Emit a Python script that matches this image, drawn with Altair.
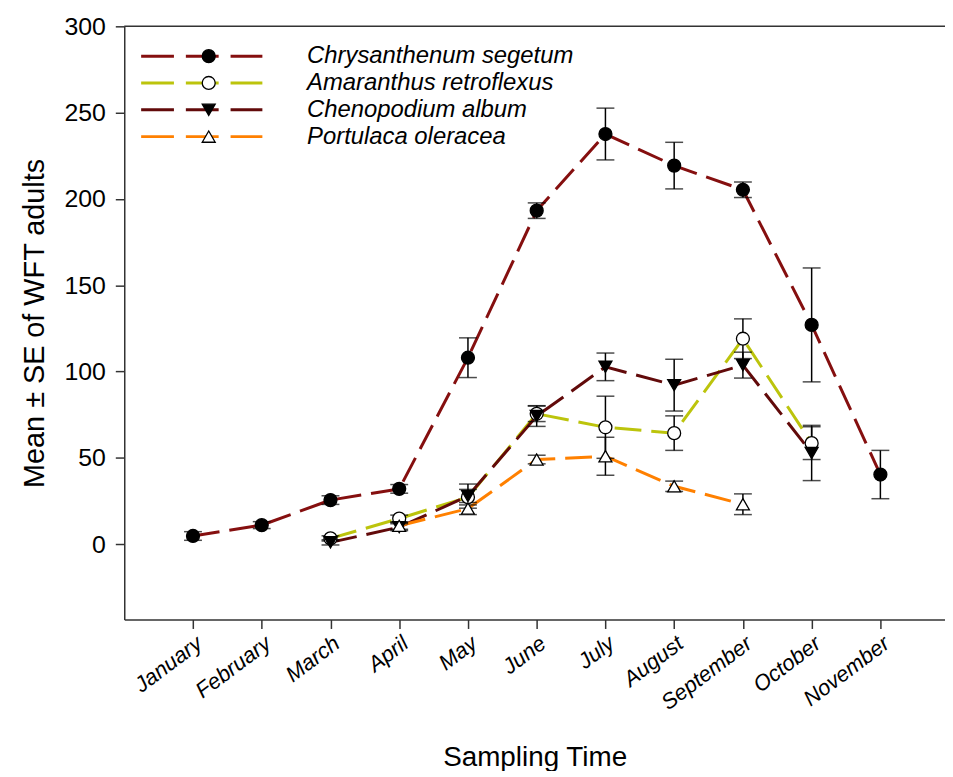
import altair as alt
import pandas as pd

months = ["January", "February", "March", "April", "May", "June", "July",
          "August", "September", "October", "November"]
month_idx = list(range(1, 12))

series_names = ["Chrysanthenum segetum", "Amaranthus retroflexus",
                "Chenopodium album", "Portulaca oleracea"]
series_colors = ["#850f0f", "#bcc40c", "#620a0a", "#ff8000"]
series_shapes = ["circle", "circle", "triangle-down", "triangle-up"]
series_fills = ["black", "white", "black", "white"]

chrys_mean = [4.7, 11.0, 25.5, 32.0, 108.0, 193.2, 237.6, 219.3, 205.3, 127.0, 40.3]
chrys_se = [2.5, 2.0, 2.5, 2.5, 11.5, 4.5, 15.0, 13.5, 4.5, 33.0, 14.0]
amar_mean = [None, None, 3.3, 14.8, 27.2, 75.5, 67.7, 64.3, 119.0, 58.5, None]
amar_se = [None, None, 1.5, 2.0, 4.5, 4.5, 18.0, 10.0, 11.5, 9.5, None]
cheno_mean = [None, None, 1.0, 9.8, 27.8, 74.2, 102.7, 92.1, 103.7, 52.8, None]
cheno_se = [None, None, 1.5, 2.0, 7.0, 6.0, 8.0, 15.0, 7.5, 16.0, None]
port_mean = [None, None, None, 10.6, 20.6, 49.0, 50.9, 33.5, 23.1, None, None]
port_se = [None, None, None, 2.0, 3.5, 2.5, 11.0, 3.0, 6.0, None, None]

all_means = [chrys_mean, amar_mean, cheno_mean, port_mean]
all_ses = [chrys_se, amar_se, cheno_se, port_se]

rows = []
for s, means, ses in zip(series_names, all_means, all_ses):
    for m, v, e in zip(month_idx, means, ses):
        if v is None:
            continue
        rows.append({"series": s, "month": m, "mean": v, "lo": v - e, "hi": v + e})
df = pd.DataFrame(rows)

W = 826
H = 597
FONT = "Liberation Sans"

label_expr = "[" + ",".join("'" + m + "'" for m in months) + "][datum.value - 1]"

x_enc = alt.X("month:Q", scale=alt.Scale(domain=[0, 11.94], nice=False, zero=False),
              axis=alt.Axis(values=month_idx, labelExpr=label_expr, title="Sampling Time",
                            labelAngle=-37, labelAlign="right", labelBaseline="top",
                            labelFontStyle="italic", labelFontSize=22, labelPadding=4,
                            labelOverlap=False, labelBound=False,
                            tickSize=9, grid=False, titleFontSize=28, titleFontWeight="normal",
                            titleY=139, titleBaseline="middle"))
y_enc = alt.Y("mean:Q", scale=alt.Scale(domain=[-43.7, 300], nice=False, zero=False),
              axis=alt.Axis(values=[0, 50, 100, 150, 200, 250, 300],
                            title="Mean \u00b1 SE of  WFT adults", labelFontSize=25,
                            labelPadding=10, tickSize=9, grid=False, titleFontSize=29,
                            labelOverlap=False, labelBound=False,
                            titleFontWeight="normal", titleX=-90, titleBaseline="middle"))

color_scale = alt.Scale(domain=series_names, range=series_colors)

base = alt.Chart(df)

lines = base.mark_line(strokeWidth=3, strokeDash=[27, 10]).encode(
    x=x_enc, y=y_enc,
    color=alt.Color("series:N", scale=color_scale, legend=None),
    order="month:Q",
)

err = base.mark_rule(color="black", strokeWidth=1.5).encode(
    x="month:Q", y="lo:Q", y2="hi:Q")
cap_lo = base.mark_tick(color="black", size=18, thickness=1.5, orient="horizontal").encode(
    x="month:Q", y="lo:Q")
cap_hi = base.mark_tick(color="black", size=18, thickness=1.5, orient="horizontal").encode(
    x="month:Q", y="hi:Q")

points = base.mark_point(filled=True, stroke="black", strokeWidth=1.3, size=170, opacity=1).encode(
    x="month:Q", y="mean:Q",
    shape=alt.Shape("series:N", scale=alt.Scale(domain=series_names, range=series_shapes), legend=None),
    fill=alt.Fill("series:N", scale=alt.Scale(domain=series_names, range=series_fills), legend=None),
)

one = pd.DataFrame({"a": [0]})
top_frame = alt.Chart(one).mark_rule(color="#333333", strokeWidth=1.5).encode(
    x=alt.value(0), x2=alt.value(W), y=alt.value(0))

legend_layers = []
for i, (name, col, shp, fil) in enumerate(zip(series_names, series_colors, series_shapes, series_fills)):
    yp = 30 + i * 27
    legend_layers.append(alt.Chart(one).mark_rule(color=col, strokeWidth=3, strokeDash=[33, 12]).encode(
        x=alt.value(17), x2=alt.value(139), y=alt.value(yp)))
    legend_layers.append(alt.Chart(one).mark_point(shape=shp, fill=fil, filled=True, stroke="black",
                                                   strokeWidth=1.3, size=170, opacity=1).encode(
        x=alt.value(85), y=alt.value(yp)))
    legend_layers.append(alt.Chart(one).mark_text(align="left", baseline="middle", fontStyle="italic",
                                                  fontSize=24, font=FONT, color="black").encode(
        x=alt.value(184), y=alt.value(yp), text=alt.value(name)))

chart = alt.layer(lines, err, cap_lo, cap_hi, points, top_frame, *legend_layers).properties(
    width=W, height=H,
    autosize=alt.AutoSizeParams(type="none"),
    padding={"left": 117, "top": 16, "right": 0, "bottom": 150},
    background="white",
).configure_view(stroke=None).configure_axis(
    domainColor="#333333", domainWidth=1.5, tickColor="#333333", tickWidth=1.5,
    labelColor="black", titleColor="black", labelFont=FONT, titleFont=FONT,
)

chart.save("out.html", embed_options={"renderer": "svg", "actions": False})
